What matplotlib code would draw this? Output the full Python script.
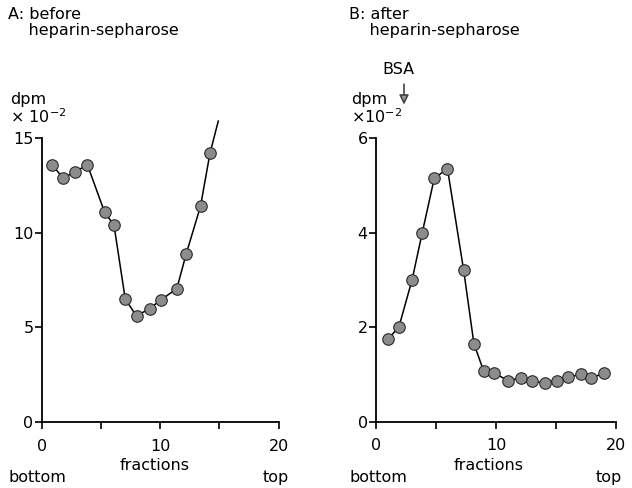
import numpy as np
import matplotlib.pyplot as plt

# panel A: before heparin-sepharose
xa = [0.85, 1.8, 2.8, 3.85, 5.3, 6.1, 7.05, 8.0, 9.1, 10.05, 11.4, 12.2, 13.4, 14.2]
ya = [13.6, 12.9, 13.2, 13.6, 11.1, 10.4, 6.5, 5.6, 6.0, 6.45, 7.05, 8.9, 11.4, 14.2]
# line runs on past the last point
xa_end = 14.9
ya_end = 15.9

# panel B: after heparin-sepharose
xb = [1.0, 1.9, 3.0, 3.85, 4.85, 5.95, 7.3, 8.15, 8.95, 9.85, 10.95, 12.05, 13.0, 14.1, 15.05, 15.95, 17.05, 17.9, 19.0]
yb = [1.75, 2.0, 3.0, 4.0, 5.15, 5.35, 3.2, 1.65, 1.08, 1.03, 0.87, 0.92, 0.85, 0.82, 0.87, 0.94, 1.0, 0.92, 1.03]

bsa_x = 2.33

fig = plt.figure(figsize=(6.32, 4.88), dpi=100)
fs = 11.5

def setup(ax, ymax, yticks):
    for s in ['top', 'right']:
        ax.spines[s].set_visible(False)
    ax.spines['left'].set_linewidth(1.3)
    ax.spines['bottom'].set_linewidth(1.3)
    ax.set_xlim(0, 20)
    ax.set_ylim(0, ymax)
    ax.set_xticks([0, 5, 10, 15, 20])
    ax.set_xticklabels(['0', '', '10', '', '20'])
    ax.set_yticks(yticks)
    ax.tick_params(direction='out', length=5, width=1.2, labelsize=fs, pad=1)
    ax.tick_params(axis='x', pad=7)

mk = dict(marker='o', ms=8.3, mfc='#8c8c8c', mec='#2a2a2a', mew=0.8, color='black', lw=1.1)

axA = fig.add_axes([0.066, 0.135, 0.375, 0.582])
setup(axA, 15, [0, 5, 10, 15])
axA.plot(xa + [xa_end], ya + [ya_end], markevery=list(range(len(xa))), clip_on=False, **mk)

axB = fig.add_axes([0.595, 0.136, 0.38, 0.581])
setup(axB, 6, [0, 2, 4, 6])
axB.plot(xb, yb, clip_on=False, **mk)

# titles and labels
fig.text(0.013, 0.985, 'A: before\n    heparin-sepharose', fontsize=fs, va='top', linespacing=1.05)
fig.text(0.553, 0.985, 'B: after\n    heparin-sepharose', fontsize=fs, va='top', linespacing=1.05)
fig.text(0.016, 0.742, 'dpm\n× 10$^{-2}$', fontsize=fs, va='bottom', linespacing=1.0)
fig.text(0.555, 0.742, 'dpm\n×10$^{-2}$', fontsize=fs, va='bottom', linespacing=1.0)
fig.text(0.605, 0.873, 'BSA', fontsize=fs, va='top')
axB.annotate('', xy=(bsa_x, 6.65), xytext=(bsa_x, 7.2), xycoords='data', annotation_clip=False,
             arrowprops=dict(arrowstyle='-|>', color='#444444', lw=1.2, mutation_scale=14,
                             fc='#999999'))

for x0, x1, x2 in [(0.013, 0.19, 0.415), (0.553, 0.717, 0.943)]:
    fig.text(x0, 0.012, 'bottom', fontsize=fs)
    fig.text(x1, 0.037, 'fractions', fontsize=fs)
    fig.text(x2, 0.012, 'top', fontsize=fs)

fig.savefig('out.png', dpi=100)
